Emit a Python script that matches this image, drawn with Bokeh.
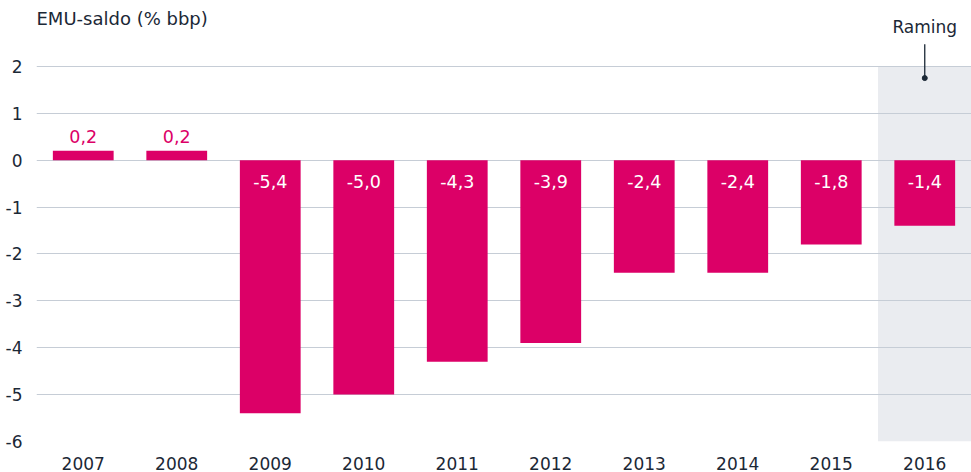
from bokeh.plotting import figure
from bokeh.models import ColumnDataSource, FixedTicker, BoxAnnotation, Label, Range1d
from bokeh.core.properties import value
from bokeh.embed import file_html
from bokeh.resources import INLINE

years = ["2007", "2008", "2009", "2010", "2011", "2012", "2013", "2014", "2015", "2016"]
saldo = [0.2, 0.2, -5.4, -5.0, -4.3, -3.9, -2.4, -2.4, -1.8, -1.4]
y_ticks = [-6, -5, -4, -3, -2, -1, 0, 1, 2]
title_text = "EMU-saldo (% bbp)"
forecast_label = "Raming"
forecast_year = "2016"

PINK = "#dc0067"
TEXT = "#1b2836"
GRID = "#c6cdd6"
SHADE = "#eaecf0"
FONT = "DejaVu Sans"

labels = [f"{v:.1f}".replace(".", ",") for v in saldo]
src = ColumnDataSource(dict(x=years, top=saldo))
pos = ColumnDataSource(dict(
    x=[y for y, v in zip(years, saldo) if v >= 0],
    y=[v for v in saldo if v >= 0],
    lab=[l for l, v in zip(labels, saldo) if v >= 0],
))
neg = ColumnDataSource(dict(
    x=[y for y, v in zip(years, saldo) if v < 0],
    y=[0 for v in saldo if v < 0],
    lab=[l for l, v in zip(labels, saldo) if v < 0],
))

p = figure(width=971, height=472, x_range=years, y_range=Range1d(-6, 2 + 66 / 47),
           output_backend="svg", toolbar_location=None,
           min_border_left=36, min_border_right=0, min_border_top=0, min_border_bottom=30)
p.outline_line_color = None
p.background_fill_color = "white"

idx = years.index(forecast_year)
p.add_layout(BoxAnnotation(left=idx, right=idx + 1, bottom=-6, top=2,
                           fill_color=SHADE, fill_alpha=1, line_color=None, level="image"))

p.vbar(x="x", top="top", bottom=0, width=0.65, source=src, fill_color=PINK, line_color=None)

p.text(x="x", y="y", text="lab", source=pos, text_color=PINK, text_align="center",
       text_baseline="middle", y_offset=-14, text_font=value(FONT), text_font_size="17.5px")
p.text(x="x", y="y", text="lab", source=neg, text_color="white", text_align="center",
       text_baseline="middle", y_offset=21, text_font=value(FONT), text_font_size="17.5px")

p.segment(x0=[forecast_year], y0=[2.47], x1=[forecast_year], y1=[1.75], line_color=TEXT, line_width=1.3)
p.scatter(x=[forecast_year], y=[1.75], size=5, fill_color=TEXT, line_color=TEXT)
p.text(x=[forecast_year], y=[2.83], text=[forecast_label], text_align="center",
       text_baseline="middle", text_color=TEXT, text_font=value(FONT), text_font_size="17px")

p.add_layout(Label(x=0, y=3.02, text=title_text, text_align="left", text_baseline="middle",
                   text_color=TEXT, text_font=FONT, text_font_size="18px"))

p.xgrid.grid_line_color = None
p.ygrid.grid_line_color = GRID
p.ygrid.grid_line_width = 1
p.yaxis.ticker = FixedTicker(ticks=y_ticks)
p.yaxis.major_label_overrides = {t: str(t) for t in y_ticks}

for ax in (p.xaxis, p.yaxis):
    ax.axis_line_color = None
    ax.major_tick_line_color = None
    ax.minor_tick_line_color = None
    ax.major_label_text_color = TEXT
    ax.major_label_text_font = FONT
    ax.major_label_text_font_size = "17px"
p.yaxis.major_label_standoff = 8
p.xaxis.major_label_standoff = 9

open("out.html", "w").write(file_html(p, INLINE))
